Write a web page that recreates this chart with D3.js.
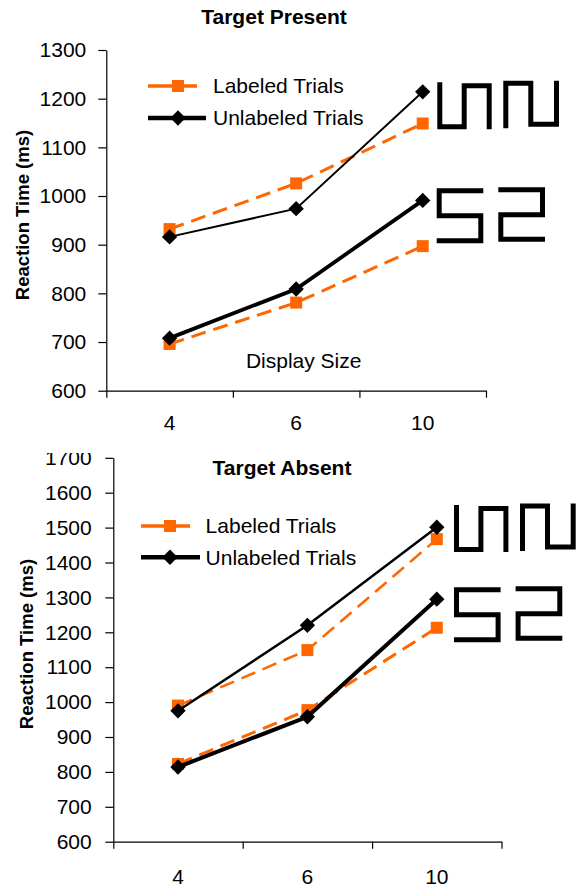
<!DOCTYPE html>
<html>
  <head>
    <script src="https://d3js.org/d3.v7.min.js"></script>
    <style>
      body { margin: 0; background: #fff; }
      svg { display: block; font-family: "Liberation Sans", Arial, sans-serif; }
    </style>
  </head>
  <body>
    <div id="chart"></div>
    <script>
      // Data
      const displaySizes = ["4", "6", "10"];

      const presentLabeledUN = [932, 1026, 1149];
      const presentUnlabeledUN = [916, 974, 1214];
      const presentLabeledS2 = [696, 781, 897];
      const presentUnlabeledS2 = [708, 809, 991];

      const absentLabeledUN = [990, 1149, 1467];
      const absentUnlabeledUN = [975, 1220, 1501];
      const absentLabeledS2 = [823, 977, 1213];
      const absentUnlabeledS2 = [814, 958, 1295];

      const presentTicks = [600, 700, 800, 900, 1000, 1100, 1200, 1300];
      const absentTicks = [600, 700, 800, 900, 1000, 1100, 1200, 1300, 1400, 1500, 1600, 1700];

      const legendLabels = ["Labeled Trials", "Unlabeled Trials"];

      const orange = "#ff6600";

      // pictogram shapes (local coordinates)
      const glyphUN = "M2.8,2.3 V46.8 H27.2 V5.8 H52.2 V49.3 M68.8,48.3 V3.2 H93.8 V44.2 H119.5 V0.7";
      const glyphS2 = "M46.6,2.8 H2.5 V27.8 H44.1 V52.8 H0 M61.6,1.8 H105.8 V26.8 H64.1 V51.2 H108.3";

      const svg = d3.select("#chart")
        .append("svg")
        .attr("width", 578)
        .attr("height", 884);

      svg.append("defs").append("clipPath")
        .attr("id", "clip-absent")
        .append("rect")
        .attr("x", 0).attr("y", 453).attr("width", 578).attr("height", 431);

      const squareSym = d3.symbol().type(d3.symbolSquare).size(144);
      const diamondSym = d3.symbol().type(d3.symbolSquare).size(118);

      function marker(sel, kind, cx, cy) {
        if (kind === "labeled") {
          sel.append("path")
            .attr("d", squareSym())
            .attr("transform", `translate(${cx},${cy})`)
            .attr("fill", orange);
        } else {
          sel.append("path")
            .attr("d", diamondSym())
            .attr("transform", `translate(${cx},${cy}) rotate(45)`)
            .attr("fill", "#000");
        }
      }

      function drawPanel(p) {
        const g = svg.append("g");
        if (p.clip) g.attr("clip-path", `url(#${p.clip})`);

        const x = d3.scaleBand().domain(displaySizes).range([p.left, p.right]);
        const xEdge = d3.scaleLinear().domain([0, displaySizes.length]).range([p.left, p.right]);
        const y = d3.scaleLinear()
          .domain([p.ticks[0], p.ticks[p.ticks.length - 1]])
          .range([p.bottom, p.top]);

        // y axis
        g.append("g")
          .attr("transform", `translate(${p.left},0)`)
          .call(d3.axisLeft(y).tickValues(p.ticks).tickFormat(d3.format("d"))
            .tickSize(8).tickSizeOuter(0).tickPadding(p.yPad))
          .call(a => a.selectAll("text").style("font-size", "21px").attr("fill", "#000"))
          .call(a => a.selectAll("line, path").attr("stroke", "#000").attr("stroke-width", 1.2));

        // x axis with ticks between categories
        g.append("g")
          .attr("transform", `translate(0,${p.bottom})`)
          .call(d3.axisBottom(xEdge).tickValues(d3.range(displaySizes.length + 1))
            .tickFormat("").tickSize(7).tickSizeOuter(0))
          .call(a => a.selectAll("line, path").attr("stroke", "#000").attr("stroke-width", 1.2));

        g.append("g")
          .attr("transform", `translate(0,${p.bottom})`)
          .call(d3.axisBottom(x).tickSize(0).tickPadding(p.xPad))
          .call(a => a.select(".domain").remove())
          .call(a => a.selectAll("text").style("font-size", "21px").attr("fill", "#000"));

        // title
        g.append("text")
          .attr("x", p.titleX)
          .attr("y", p.titleY)
          .attr("text-anchor", "middle")
          .style("font-size", "21px")
          .style("font-weight", "bold")
          .text(p.title);

        // y label
        g.append("text")
          .attr("transform", `translate(${p.yLabelX},${p.yLabelY}) rotate(-90)`)
          .attr("text-anchor", "middle")
          .attr("dy", "0.36em")
          .style("font-size", "18.5px")
          .style("font-weight", "bold")
          .text("Reaction Time (ms)");

        if (p.xTitle) {
          g.append("text")
            .attr("x", p.xTitle[0])
            .attr("y", p.xTitle[1])
            .attr("text-anchor", "middle")
            .style("font-size", "21px")
            .text("Display Size");
        }

        const line = d3.line()
          .x((d, i) => x(displaySizes[i]) + x.bandwidth() / 2)
          .y(d => y(d));

        // orange series first, black on top
        p.series.forEach(s => {
          g.append("path")
            .datum(s.values)
            .attr("d", line)
            .attr("fill", "none")
            .attr("stroke", s.kind === "labeled" ? orange : "#000")
            .attr("stroke-width", s.width)
            .attr("stroke-dasharray", s.kind === "labeled" ? "15,8" : null);
          s.values.forEach((v, i) => marker(g, s.kind, x(displaySizes[i]) + x.bandwidth() / 2, y(v)));
        });

        // legend
        const lg = g.append("g");
        legendLabels.forEach((label, i) => {
          const kind = i === 0 ? "labeled" : "unlabeled";
          const ly = p.legend.y + i * p.legend.step;
          lg.append("line")
            .attr("x1", p.legend.x0)
            .attr("x2", i === 0 ? p.legend.x1 : p.legend.x1b)
            .attr("y1", ly).attr("y2", ly)
            .attr("stroke", i === 0 ? orange : "#000")
            .attr("stroke-width", i === 0 ? 3.5 : 4.5);
          marker(lg, kind, p.legend.mx, ly);
          lg.append("text")
            .attr("x", p.legend.tx)
            .attr("y", ly)
            .attr("dy", "0.35em")
            .style("font-size", "21px")
            .text(label);
        });

        // pictograms
        g.append("path")
          .attr("d", glyphUN)
          .attr("transform", `translate(${p.glyphUN[0]},${p.glyphUN[1]})`)
          .attr("fill", "none").attr("stroke", "#000").attr("stroke-width", 5);
        g.append("path")
          .attr("d", glyphS2)
          .attr("transform", `translate(${p.glyphS2[0]},${p.glyphS2[1]})`)
          .attr("fill", "none").attr("stroke", "#000").attr("stroke-width", 5);
      }

      drawPanel({
        title: "Target Present",
        titleX: 274, titleY: 24,
        left: 106.3, right: 486, top: 50, bottom: 390.7,
        ticks: presentTicks, yPad: 12, xPad: 24.6,
        yLabelX: 22, yLabelY: 215,
        xTitle: [303.7, 367.5],
        legend: { y: 86, step: 32, x0: 148, x1: 197, x1b: 206, mx: 178, tx: 213 },
        glyphUN: [437, 80], glyphS2: [436.7, 188],
        series: [
          { values: presentLabeledUN, kind: "labeled", width: 3 },
          { values: presentLabeledS2, kind: "labeled", width: 3 },
          { values: presentUnlabeledUN, kind: "unlabeled", width: 2 },
          { values: presentUnlabeledS2, kind: "unlabeled", width: 3.8 }
        ]
      });

      drawPanel({
        title: "Target Absent",
        titleX: 282, titleY: 475,
        left: 113.3, right: 501.5, top: 457.8, bottom: 841.7,
        ticks: absentTicks, yPad: 13.6, xPad: 27,
        yLabelX: 26.7, yLabelY: 644,
        clip: "clip-absent",
        legend: { y: 526, step: 31.3, x0: 141, x1: 190, x1b: 200, mx: 170, tx: 205.6 },
        glyphUN: [453.7, 502.7], glyphS2: [454, 587],
        series: [
          { values: absentLabeledUN, kind: "labeled", width: 2.5 },
          { values: absentLabeledS2, kind: "labeled", width: 3 },
          { values: absentUnlabeledUN, kind: "unlabeled", width: 2.5 },
          { values: absentUnlabeledS2, kind: "unlabeled", width: 4 }
        ]
      });
    </script>
  </body>
</html>
